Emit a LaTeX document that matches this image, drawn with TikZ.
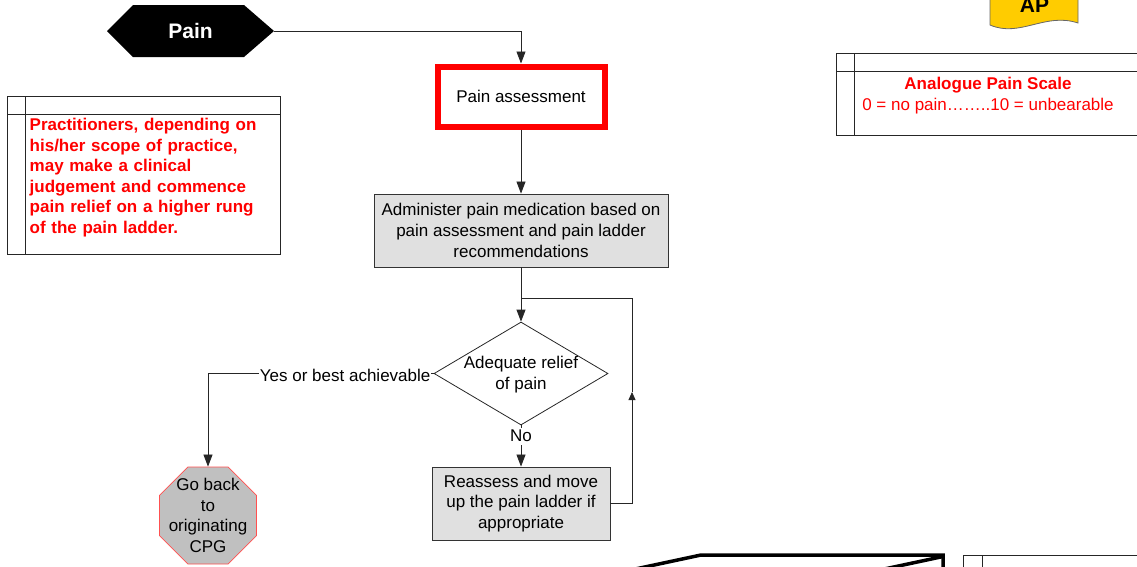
\documentclass[tikz,border=0pt]{standalone}
\usepackage{fontspec}
\setmainfont{Liberation Sans}
\usetikzlibrary{arrows.meta,shapes.geometric}

\definecolor{boxgray}{HTML}{E0E0E0}
\definecolor{stopgray}{HTML}{C0C0C0}
\definecolor{alertred}{HTML}{FF0000}
\definecolor{stopred}{HTML}{FF5050}
\definecolor{apyellow}{HTML}{FFCC00}

\begin{document}
\begin{tikzpicture}[x=1pt,y=-1pt,
  txt/.style={font=\fontsize{17}{20.6}\selectfont, align=center},
  flow/.style={draw=black!85, line width=0.8pt, -{Triangle[length=12pt,width=9pt]}},
  plain/.style={draw=black!85, line width=0.8pt},
  procbox/.style={draw=black!80, line width=0.9pt, fill=boxgray, inner sep=0pt, txt},
  notebox/.style={draw=black!85, line width=1pt},
  notetext/.style={text=alertred, font=\bfseries\fontsize{17}{20.6}\selectfont},
  bigbold/.style={font=\bfseries\fontsize{21}{24}\selectfont},
  heavy/.style={draw=black, line width=3.5pt, line join=miter}
]
\useasboundingbox (0,0) rectangle (1137,566);
\clip (0,0) rectangle (1137,566);

% start terminator "Pain"
\fill[black] (107,31) -- (133,5) -- (244,5) -- (274,31) -- (244,57) -- (133,57) -- cycle;
\node[minimum width=167pt, minimum height=52pt, inner sep=0pt, bigbold, text=white] (start) at (190.5,31) {Pain};

% AP off-page tag
\filldraw[fill=apyellow, draw=black!60, line width=0.8pt]
  (990,-5) -- (990,25) .. controls (1020,38) and (1045,12) .. (1078,23) -- (1078,-5) -- cycle;
\node[bigbold, anchor=base, inner sep=0pt] (ap) at (1034.5,12) {AP};

% side notes
\draw[notebox] (7,96) rectangle (280,254);
\draw[notebox] (7,114) -- (280,114);
\draw[notebox] (25,96) -- (25,254);
\node[notetext, anchor=base west, inner sep=0pt, text width=245pt, align=left] (practnote) at (29.5,130.5)
  {Practitioners, depending on\\his/her scope of practice,\\may make a clinical\\judgement and commence\\pain relief on a higher rung\\of the pain ladder.};

\draw[notebox] (836,53) rectangle (1145,135);
\draw[notebox] (836,71) -- (1145,71);
\draw[notebox] (854,53) -- (854,135);
\node[text=alertred, inner sep=0pt, align=center, font=\fontsize{17}{21.5}\selectfont] (scalenote) at (988,95.5)
  {{\bfseries Analogue Pain Scale}\\0 = no pain……..10 = unbearable};

% process steps
\node[draw=alertred, line width=6pt, fill=white, minimum width=167pt, minimum height=60pt, inner sep=0pt, txt] (pa) at (521,96.5) {Pain assessment};

\node[procbox, minimum width=294pt, minimum height=73pt] (adm) at (521,230.5)
  {Administer pain medication based on\\pain assessment and pain ladder\\recommendations};

\node[diamond, draw=black!85, line width=0.8pt, fill=white, minimum width=174pt, minimum height=103pt, inner sep=0pt] (dec) at (521,373.5) {};
\node[txt, inner sep=0pt] (dectext) at (521,374.5) {Adequate relief\\of pain};

\node[procbox, minimum width=178pt, minimum height=73pt] (re) at (521,503.5)
  {\vphantom{y}Reassess and move\\up the pain ladder if\\appropriate};

\node[regular polygon, regular polygon sides=8, minimum size=105pt, inner sep=0pt, draw=stopred, fill=stopgray, line width=0.8pt] (stop) at (208,515.5) {};
\node[txt, inner sep=0pt] (stoptext) at (208,515.5) {Go back\\to\\originating\\CPG};

% connectors
\draw[flow] (start.east) -| (pa.north);
\draw[flow] (pa.south) -- (adm.north);
\draw[flow] (adm.south) -- (dec.north);
\draw[flow] (dec.west) -| node[pos=0.196, fill=white, inner sep=1pt, yshift=-1.5pt, txt] (yeslabel) {Yes or best achievable} (stop.north);
\draw[flow] (dec.south) -- node[pos=0.26, fill=white, inner sep=2.5pt, txt] (nolabel) {No} (re.north);

\coordinate (loopup) at (632,392);
\coordinate (loopjoin) at (521,298);
\draw[plain, -{Triangle[length=8pt,width=7pt]}] (re.east) -| (loopup);
\draw[plain] (loopup) |- (loopjoin);

% shapes continuing below
\draw[heavy] (626,571) -- (701,555) -- (943,555) -- (943,571);
\draw[heavy] (875,571) -- (943,556.5);
\draw[notebox] (963,571) -- (963,555) -- (1145,555);
\draw[notebox] (982,555) -- (982,571);
\end{tikzpicture}
\end{document}
